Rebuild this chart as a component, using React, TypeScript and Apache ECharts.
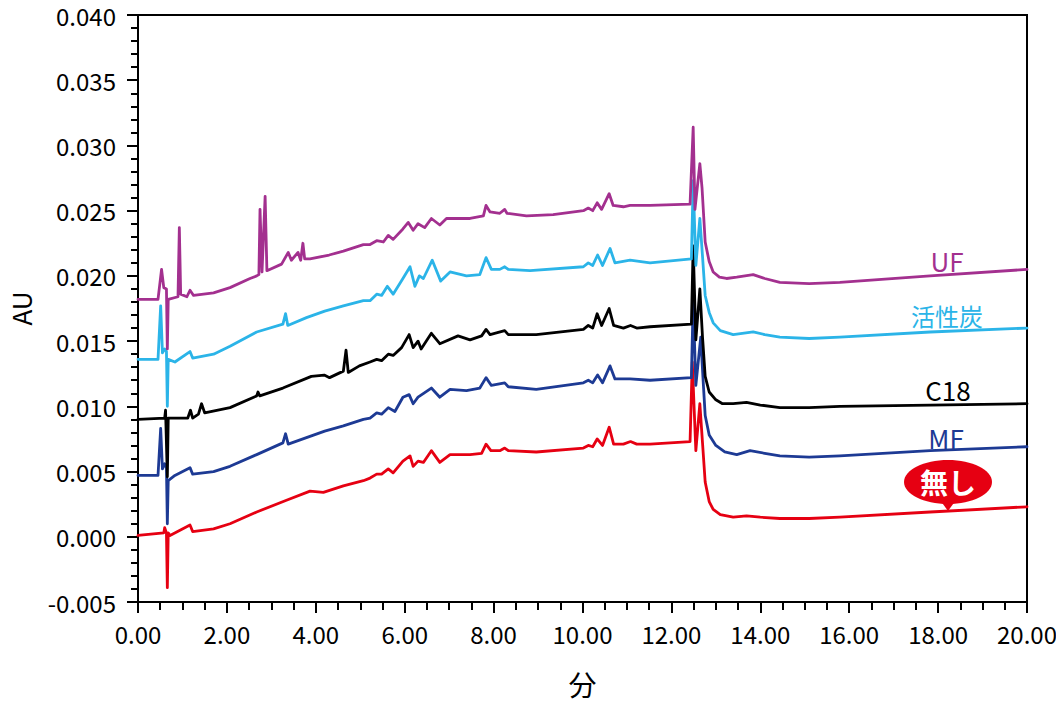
import React, { useEffect, useRef } from 'react';
import * as echarts from 'echarts';

// [時間(分), 吸光度(AU)]
const uf = [
  [0, 0.0182], [0.45, 0.0182], [0.53, 0.0205], [0.58, 0.0191], [0.64, 0.019], [0.66, 0.0144], [0.68, 0.0182],
  [0.9, 0.0184], [0.93, 0.0237], [0.96, 0.0186], [1.1, 0.0184], [1.17, 0.0189], [1.25, 0.0185],
  [1.7, 0.0187], [2.07, 0.0191], [2.52, 0.0198], [2.67, 0.02], [2.72, 0.0201], [2.745, 0.0251], [2.79, 0.0203],
  [2.86, 0.0261], [2.9, 0.0204], [3.23, 0.0209], [3.38, 0.0218], [3.45, 0.0212], [3.6, 0.0218],
  [3.66, 0.0212], [3.71, 0.0225], [3.75, 0.0213], [3.87, 0.0213], [4.3, 0.0216], [4.62, 0.0219], [5.07, 0.0224],
  [5.22, 0.0224], [5.37, 0.0227], [5.52, 0.0226], [5.63, 0.0231], [5.74, 0.0228], [5.96, 0.0236],
  [6.08, 0.0241], [6.19, 0.0235], [6.3, 0.024], [6.45, 0.0237], [6.6, 0.0244], [6.79, 0.0239],
  [6.94, 0.0244], [7.47, 0.0244], [7.77, 0.0246], [7.83, 0.0254], [7.92, 0.0249], [8.14, 0.0248],
  [8.25, 0.0251], [8.3, 0.0248], [8.74, 0.0246], [9.34, 0.0247], [10.02, 0.025], [10.13, 0.0252],
  [10.23, 0.025], [10.33, 0.0256], [10.43, 0.0251], [10.6, 0.0263], [10.69, 0.0254], [10.92, 0.0253],
  [11.07, 0.0254], [11.52, 0.0254], [12.42, 0.0255], [12.49, 0.0314], [12.53, 0.0251], [12.58, 0.0267],
  [12.64, 0.0286], [12.69, 0.0267], [12.76, 0.0226], [12.85, 0.0211], [12.94, 0.0203], [13.08, 0.0199],
  [13.24, 0.0198], [13.47, 0.0199], [13.84, 0.0201], [14.1, 0.0198], [14.44, 0.0195], [15.1, 0.0194],
  [15.79, 0.0195], [17.82, 0.02], [20, 0.0205],
];

const kasseitan = [
  [0, 0.0136], [0.45, 0.0136], [0.51, 0.0177], [0.55, 0.0141], [0.6, 0.0144], [0.64, 0.0142], [0.66, 0.01],
  [0.68, 0.0136], [0.83, 0.0134], [1.17, 0.0142], [1.23, 0.0137], [1.7, 0.014], [2.07, 0.0146], [2.67, 0.0157],
  [3.26, 0.0163], [3.32, 0.0171], [3.37, 0.0162], [3.79, 0.0168], [4.2, 0.0173], [4.62, 0.0177], [5.07, 0.0181],
  [5.22, 0.0181], [5.37, 0.0186], [5.48, 0.0185], [5.61, 0.0192], [5.74, 0.0186], [5.96, 0.0198],
  [6.12, 0.0207], [6.23, 0.0192], [6.33, 0.02], [6.42, 0.0198], [6.62, 0.0212], [6.81, 0.0196],
  [7.02, 0.0203], [7.39, 0.02], [7.69, 0.0201], [7.83, 0.0214], [7.95, 0.0205], [8.14, 0.0205],
  [8.25, 0.0207], [8.33, 0.0205], [8.82, 0.0204], [10.02, 0.0207], [10.13, 0.021], [10.23, 0.0208],
  [10.34, 0.0216], [10.45, 0.0208], [10.62, 0.0221], [10.73, 0.021], [11.07, 0.0212], [11.52, 0.021],
  [12.45, 0.0213], [12.49, 0.0273], [12.55, 0.0208], [12.64, 0.0244], [12.7, 0.0215], [12.76, 0.0185],
  [12.85, 0.0172], [12.94, 0.0164], [13.1, 0.0158], [13.39, 0.0155], [13.84, 0.0157], [14.1, 0.0155],
  [14.44, 0.0153], [15.1, 0.0152], [15.79, 0.0153], [17.82, 0.0157], [20, 0.016],
];

const c18 = [
  [0, 0.009], [0.6, 0.0091], [0.62, 0.0097], [0.66, 0.0046], [0.68, 0.0091], [1.12, 0.0091], [1.18, 0.0097],
  [1.23, 0.0091], [1.36, 0.0094], [1.43, 0.0102], [1.5, 0.0095], [2.07, 0.0099], [2.67, 0.0108],
  [2.7, 0.0111], [2.74, 0.0108], [3.26, 0.0114], [3.9, 0.0123], [4.19, 0.0124], [4.31, 0.0122],
  [4.62, 0.0127], [4.68, 0.0143], [4.73, 0.0126], [4.98, 0.0131], [5.22, 0.0134], [5.37, 0.0136],
  [5.48, 0.0135], [5.63, 0.014], [5.74, 0.0139], [5.93, 0.0145], [6.1, 0.0155], [6.19, 0.0145],
  [6.3, 0.015], [6.37, 0.0144], [6.6, 0.0156], [6.79, 0.0148], [7.2, 0.0154], [7.47, 0.0151],
  [7.73, 0.0154], [7.83, 0.0159], [7.92, 0.0155], [8.25, 0.0158], [8.33, 0.0155], [8.96, 0.0155],
  [10.02, 0.0159], [10.13, 0.0162], [10.23, 0.016], [10.33, 0.0171], [10.43, 0.0162], [10.6, 0.0175],
  [10.7, 0.0162], [10.92, 0.016], [11.08, 0.0162], [11.22, 0.016], [11.52, 0.0161], [12.45, 0.0163],
  [12.49, 0.0223], [12.55, 0.0151], [12.64, 0.019], [12.7, 0.0153], [12.76, 0.0123], [12.85, 0.0111],
  [13.0, 0.0105], [13.15, 0.0102], [13.39, 0.0102], [13.69, 0.0103], [14.0, 0.0101], [14.44, 0.0099],
  [15.1, 0.0099], [15.79, 0.01], [17.82, 0.0101], [20, 0.0102],
];

const mf = [
  [0, 0.0047], [0.45, 0.0047], [0.51, 0.0083], [0.55, 0.0052], [0.6, 0.0056], [0.64, 0.0053], [0.66, 0.001],
  [0.68, 0.0043], [0.83, 0.0047], [1.17, 0.0053], [1.23, 0.0048], [1.7, 0.005], [2.07, 0.0054], [2.67, 0.0063],
  [3.26, 0.0072], [3.32, 0.0079], [3.38, 0.0071], [3.79, 0.0076], [4.2, 0.0081], [4.62, 0.0085], [5.07, 0.009],
  [5.22, 0.0091], [5.37, 0.0095], [5.48, 0.0094], [5.63, 0.0099], [5.78, 0.0096], [5.96, 0.0107],
  [6.1, 0.0109], [6.19, 0.0102], [6.3, 0.0107], [6.6, 0.0114], [6.79, 0.0107], [7.02, 0.0113],
  [7.39, 0.0112], [7.69, 0.0114], [7.83, 0.0122], [7.95, 0.0116], [8.25, 0.0118], [8.33, 0.0115],
  [8.96, 0.0113], [10.02, 0.0118], [10.13, 0.012], [10.23, 0.0118], [10.34, 0.0124], [10.45, 0.0118],
  [10.62, 0.0131], [10.73, 0.0121], [11.07, 0.0121], [11.52, 0.012], [12.45, 0.0122], [12.49, 0.0181],
  [12.55, 0.0116], [12.66, 0.0153], [12.71, 0.0122], [12.76, 0.0093], [12.85, 0.0078], [13.0, 0.007],
  [13.2, 0.0065], [13.47, 0.0063], [13.77, 0.0066], [14.1, 0.0064], [14.44, 0.0062], [15.1, 0.0061],
  [15.79, 0.0062], [17.82, 0.0066], [20, 0.0069],
];

const nashi = [
  [0, 0.0001], [0.58, 0.0003], [0.6, 0.0007], [0.64, 0.0003], [0.66, -0.0039], [0.68, 0.0003], [0.72, 0.0001],
  [1.17, 0.0009], [1.23, 0.0004], [1.7, 0.0006], [2.07, 0.001], [2.67, 0.0019], [3.34, 0.0028], [3.87, 0.0035],
  [4.17, 0.0034], [4.62, 0.0039], [5.07, 0.0043], [5.22, 0.0045], [5.37, 0.0048], [5.48, 0.0048],
  [5.63, 0.0052], [5.74, 0.0049], [5.96, 0.0058], [6.12, 0.0062], [6.19, 0.0054], [6.3, 0.0058],
  [6.42, 0.0057], [6.6, 0.0066], [6.79, 0.0057], [7.02, 0.0063], [7.47, 0.0063], [7.73, 0.0064],
  [7.83, 0.0071], [7.94, 0.0066], [8.14, 0.0066], [8.25, 0.0068], [8.33, 0.0066], [8.96, 0.0065],
  [10.02, 0.0068], [10.13, 0.007], [10.23, 0.0069], [10.33, 0.0075], [10.45, 0.007], [10.6, 0.0084],
  [10.7, 0.0071], [10.92, 0.0071], [11.08, 0.0073], [11.22, 0.0071], [11.52, 0.0071], [12.42, 0.0073],
  [12.47, 0.0134], [12.55, 0.0066], [12.64, 0.0102], [12.7, 0.0072], [12.76, 0.0042], [12.85, 0.0027],
  [12.94, 0.0021], [13.1, 0.0017], [13.39, 0.0015], [13.69, 0.0016], [14.0, 0.0015], [14.44, 0.0014],
  [15.1, 0.0014], [15.79, 0.0015], [17.82, 0.0019], [20, 0.0023],
];

const FONT = '"Noto Sans CJK JP", "Noto Sans", sans-serif';
const C_UF = '#a3308f';
const C_KT = '#2bb4e8';
const C_C18 = '#000000';
const C_MF = '#1d3a94';
const C_NS = '#e60012';

const line = (name: string, data: number[][], color: string) => ({
  name,
  type: 'line',
  data,
  showSymbol: false,
  symbol: 'none',
  lineStyle: { color, width: 2.8, join: 'round', cap: 'round' },
  itemStyle: { color },
  z: 3,
});

const App = () => {
  const chartRef = useRef<HTMLDivElement>(null);

  useEffect(() => {
    const chart = echarts.init(chartRef.current, null, { renderer: 'svg' });

    chart.setOption({
      animation: false,
      backgroundColor: '#fff',
      textStyle: { fontFamily: FONT },
      grid: {
        left: 138, right: 29, top: 15, bottom: 104,
        show: true, borderColor: '#000', borderWidth: 2,
        outerBoundsMode: 'none',
      },
      xAxis: {
        type: 'value',
        min: 0, max: 20, interval: 2,
        name: '分',
        nameLocation: 'middle',
        nameGap: 68,
        nameTextStyle: { fontSize: 28, color: '#000', fontFamily: FONT },
        axisLine: { onZero: false, lineStyle: { color: '#000', width: 2 } },
        axisTick: { length: 11, lineStyle: { color: '#000', width: 2 } },
        minorTick: { show: true, splitNumber: 4, length: 8, lineStyle: { color: '#000', width: 2 } },
        splitLine: { show: false },
        axisLabel: {
          fontSize: 24, color: '#000', margin: 19, fontFamily: FONT,
          formatter: (v: number) => v.toFixed(2),
        },
      },
      yAxis: {
        type: 'value',
        min: -0.005, max: 0.04, interval: 0.005,
        name: 'AU',
        nameLocation: 'middle',
        nameGap: 105,
        nameRotate: 90,
        nameTextStyle: { fontSize: 26, color: '#000', fontFamily: FONT },
        axisLine: { show: true, lineStyle: { color: '#000', width: 2 } },
        axisTick: { length: 11, lineStyle: { color: '#000', width: 2 } },
        minorTick: { show: true, splitNumber: 5, length: 7, lineStyle: { color: '#000', width: 2 } },
        splitLine: { show: false },
        axisLabel: {
          fontSize: 24, color: '#000', margin: 22, fontFamily: FONT,
          formatter: (v: number) => v.toFixed(3),
        },
      },
      series: [
        line('無し', nashi, C_NS),
        line('MF', mf, C_MF),
        line('C18', c18, C_C18),
        line('活性炭', kasseitan, C_KT),
        line('UF', uf, C_UF),
      ],
      graphic: [
        { type: 'text', x: 947, y: 260, style: { text: 'UF', fill: C_UF, font: `26px ${FONT}`, align: 'center', verticalAlign: 'middle' } },
        { type: 'text', x: 947, y: 315, style: { text: '活性炭', fill: C_KT, font: `24px ${FONT}`, align: 'center', verticalAlign: 'middle' } },
        { type: 'text', x: 948, y: 389, style: { text: 'C18', fill: C_C18, font: `26px ${FONT}`, align: 'center', verticalAlign: 'middle' } },
        { type: 'text', x: 946, y: 437, style: { text: 'MF', fill: C_MF, font: `26px ${FONT}`, align: 'center', verticalAlign: 'middle' } },
        { type: 'polygon', shape: { points: [[940, 500], [956, 500], [948, 511]] }, style: { fill: C_NS } },
        { type: 'ellipse', shape: { cx: 948, cy: 482, rx: 44, ry: 22 }, style: { fill: C_NS } },
        { type: 'text', x: 948, y: 482, style: { text: '無し', fill: '#fff', font: `bold 28px ${FONT}`, align: 'center', verticalAlign: 'middle' } },
      ],
    });

    return () => {
      chart.dispose();
    };
  }, []);

  return <div ref={chartRef} style={{ position: 'fixed', left: 0, top: 0, width: 1056, height: 706 }} />;
};

export default App;
